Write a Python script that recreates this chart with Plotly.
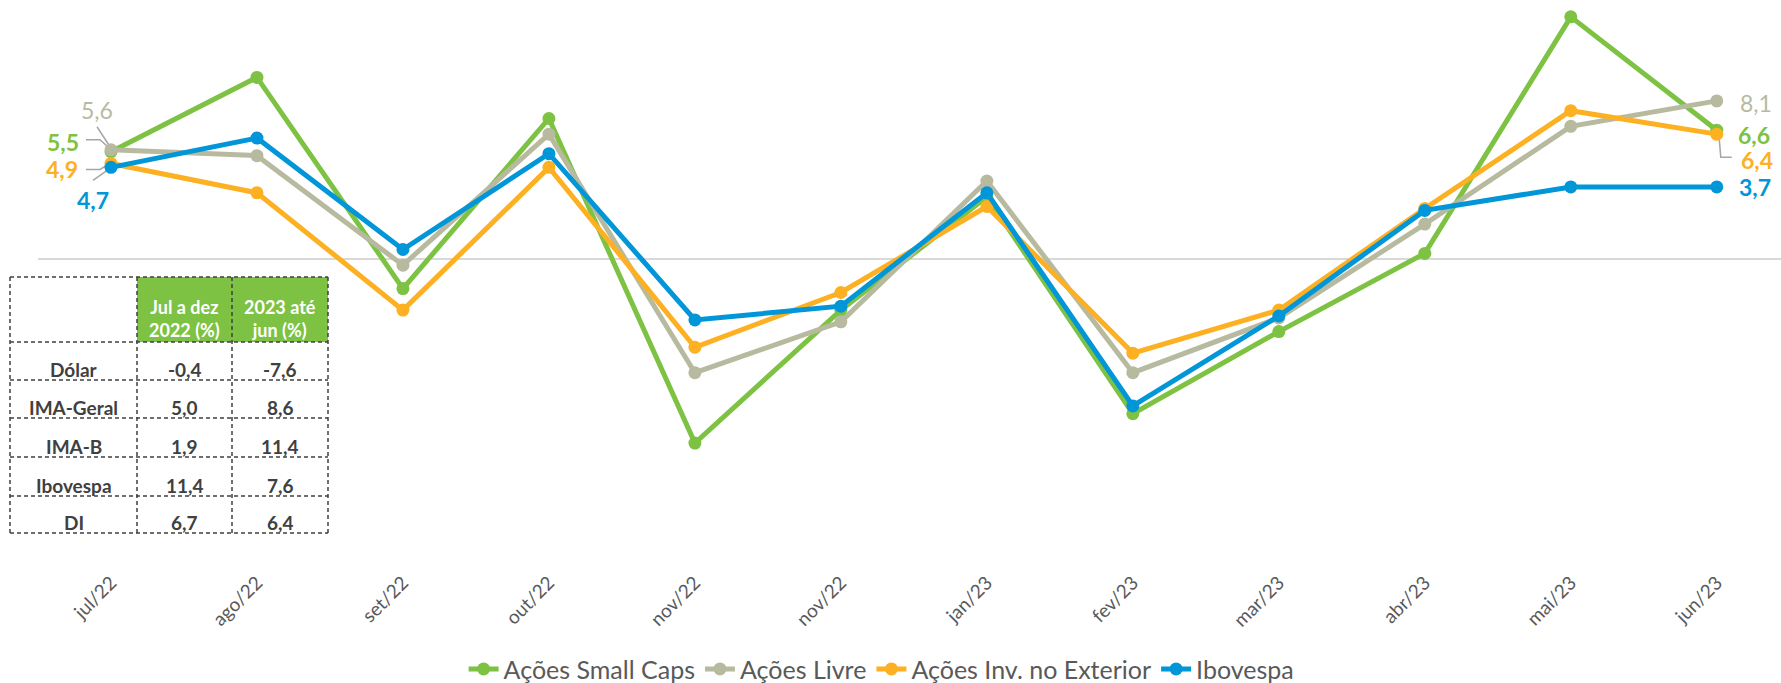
import plotly.graph_objects as go

# ---- data -------------------------------------------------------------
meses = ["jul/22", "ago/22", "set/22", "out/22", "nov/22", "nov/22",
         "jan/23", "fev/23", "mar/23", "abr/23", "mai/23", "jun/23"]

acoes_small_caps = [5.5, 9.3, -1.5, 7.2, -9.4, -2.6, 3.2, -7.9, -3.7, 0.3, 12.4, 6.6]
acoes_livre = [5.6, 5.3, -0.3, 6.4, -5.8, -3.2, 4.0, -5.8, -3.0, 1.8, 6.8, 8.1]
acoes_exterior = [4.9, 3.4, -2.6, 4.7, -4.5, -1.7, 2.7, -4.8, -2.6, 2.6, 7.6, 6.4]
ibovespa = [4.7, 6.2, 0.5, 5.4, -3.1, -2.4, 3.4, -7.5, -2.9, 2.5, 3.7, 3.7]

tabela_linhas = ["Dólar", "IMA-Geral", "IMA-B", "Ibovespa", "DI"]
tabela_cabecalho = ["Jul a dez<br>2022 (%)", "2023 até<br>jun (%)"]
jul_dez_2022 = [-0.4, 5.0, 1.9, 11.4, 6.7]
ate_jun_2023 = [-7.6, 8.6, 11.4, 7.6, 6.4]

# ---- style ------------------------------------------------------------
W, H = 1781, 683
ML, MR, MT, MB = 38, 0, 0, 123
FONT = "Lato"
TXT = "#595959"
VERDE = "#7DC242"
CINZA = "#B8BA9F"
LARANJA = "#FDB022"
AZUL = "#0096D8"

series = [
    ("Ações Small Caps", acoes_small_caps, VERDE),
    ("Ações Livre", acoes_livre, CINZA),
    ("Ações Inv. no Exterior", acoes_exterior, LARANJA),
    ("Ibovespa", ibovespa, AZUL),
]

x = list(range(len(meses)))

fig = go.Figure()
for nome, vals, cor in series:
    fig.add_trace(go.Scatter(
        x=x, y=vals, name=nome, mode="lines+markers",
        line=dict(color=cor, width=5),
        marker=dict(color=cor, size=13),
        hoverinfo="skip",
    ))


def br(v):
    return f"{v:.1f}".replace(".", ",")


# first / last point labels: (series index, point index, dx, dy, bold)
rotulos = [
    (1, 0, -14, 40, False),
    (0, 0, -48, 10, True),
    (2, 0, -49, -6, True),
    (3, 0, -18, -33, True),
    (1, -1, 39, -2, False),
    (0, -1, 37, -5, True),
    (2, -1, 40, -26, True),
    (3, -1, 38, 0, True),
]
annotations = []
for si, pi, dx, dy, bold in rotulos:
    nome, vals, cor = series[si]
    v = vals[pi]
    txt = br(v)
    annotations.append(dict(
        x=x[pi], y=v, xref="x", yref="y", text=f"<b>{txt}</b>" if bold else txt,
        showarrow=False, xshift=dx, yshift=dy,
        font=dict(family=FONT, size=23, color=cor),
    ))

# leader lines (pixel offsets from the point, y up)
guias = [
    (1, 0, [(-14, 23), (-1, 3)]),
    (0, 0, [(-25, 12), (-11, 12), (-1, 3)]),
    (2, 0, [(-25, -6), (-11, -6), (-1, 0)]),
    (3, 0, [(-18, -13), (-1, -1)]),
    (2, -1, [(2, 1), (4, -23), (15, -23)]),
]
shapes = []
for si, pi, pts in guias:
    vals = series[si][1]
    path = "M " + " L ".join(f"{px},{py}" for px, py in pts)
    shapes.append(dict(
        type="path", xref="x", yref="y", xsizemode="pixel", ysizemode="pixel",
        xanchor=x[pi], yanchor=vals[pi], path=path,
        line=dict(color="#A6A6A6", width=1.5), layer="below",
    ))

# ---- summary table drawn in pixel space --------------------------------
PW = W - ML - MR
PH = H - MT - MB


def px(xp):
    return (xp - ML) / PW


def py(yp):
    return (H - MB - yp) / PH


col_x = [10, 137, 232, 328]
row_y = [277, 342, 380, 418, 457, 496, 533]
BORDA = "#404040"

# green header cells
shapes.append(dict(type="rect", xref="paper", yref="paper",
                   x0=px(col_x[1]), x1=px(col_x[3]), y0=py(row_y[1]), y1=py(row_y[0]),
                   fillcolor=VERDE, line=dict(width=0), layer="above"))
for xv in col_x:
    shapes.append(dict(type="line", xref="paper", yref="paper",
                       x0=px(xv), x1=px(xv), y0=py(row_y[0]), y1=py(row_y[-1]),
                       line=dict(color=BORDA, width=1.5, dash="4px,3px"), layer="above"))
for yv in row_y:
    shapes.append(dict(type="line", xref="paper", yref="paper",
                       x0=px(col_x[0]), x1=px(col_x[-1]), y0=py(yv), y1=py(yv),
                       line=dict(color=BORDA, width=1.5, dash="4px,3px"), layer="above"))

for j, head in enumerate(tabela_cabecalho):
    cx = (col_x[j + 1] + col_x[j + 2]) / 2
    annotations.append(dict(
        x=px(cx), y=py(318), xref="paper", yref="paper", text=f"<b>{head}</b>",
        xanchor="center", yanchor="middle",
        showarrow=False, font=dict(family=FONT, size=18, color="white"),
        align="center",
    ))
for i, nome in enumerate(tabela_linhas):
    ty = row_y[i + 2] - 11
    cells = [nome, br(jul_dez_2022[i]), br(ate_jun_2023[i])]
    for j, c in enumerate(cells):
        cx = (col_x[j] + col_x[j + 1]) / 2
        annotations.append(dict(
            x=px(cx), y=py(ty), xref="paper", yref="paper", text=f"<b>{c}</b>",
            xanchor="center", yanchor="middle",
            showarrow=False, font=dict(family=FONT, size=19, color="#404040"),
        ))

fig.update_layout(
    width=W, height=H,
    margin=dict(l=ML, r=MR, t=MT, b=MB, autoexpand=False),
    paper_bgcolor="white", plot_bgcolor="white",
    font=dict(family=FONT, color=TXT),
    showlegend=True,
    legend=dict(orientation="h", x=0.484, xanchor="center", y=-0.195, yanchor="middle",
                font=dict(family=FONT, size=25, color=TXT), itemwidth=30),
    xaxis=dict(
        range=[-0.5, 11.44], tickmode="array", tickvals=x, ticktext=meses,
        tickangle=-45, showgrid=False, zeroline=False, showline=False,
        ticks="", tickfont=dict(family=FONT, size=19, color=TXT),
        ticklabelstandoff=7, automargin=False,
    ),
    yaxis=dict(
        range=[-15.38, 13.26], showgrid=False, showticklabels=False,
        zeroline=True, zerolinecolor="#D9D9D9", zerolinewidth=2, showline=False,
        automargin=False,
    ),
    annotations=annotations,
    shapes=shapes,
)

fig.write_html("out.html")
